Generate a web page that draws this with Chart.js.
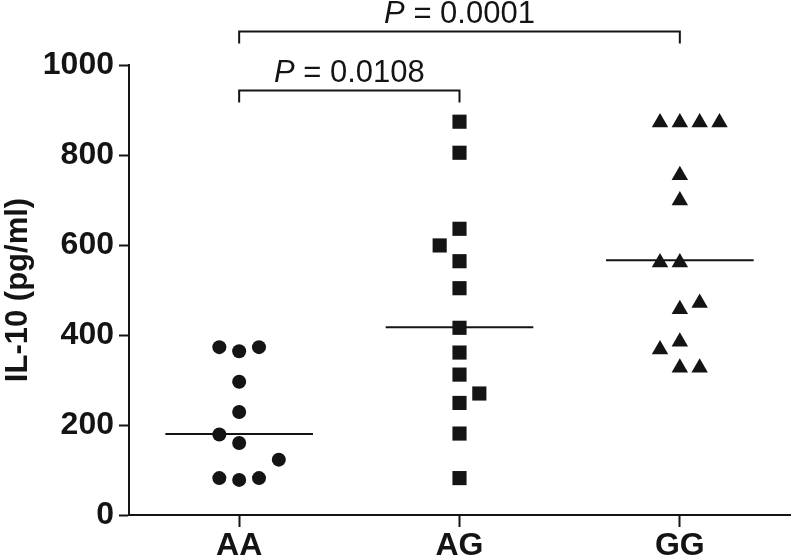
<!DOCTYPE html>
<html>
<head>
<meta charset="utf-8">
<script src="https://cdn.jsdelivr.net/npm/chart.js@4.4.1/dist/chart.umd.min.js"></script>
<style>
  html, body { margin: 0; padding: 0; background: #fff; }
  #wrap { width: 800px; height: 560px; }
</style>
</head>
<body>
<div id="wrap"><canvas id="c"></canvas></div>
<script>
// genotype groups and axis ticks
const genotypes = ['AA', 'AG', 'GG'];
const yTicks = [0, 200, 400, 600, 800, 1000];

// IL-10 values per genotype (pg/ml)
const aaValues = [373, 364, 373, 296, 229, 179, 160, 123, 82, 78, 82];
const agValues = [874, 805, 636, 599, 564, 504, 416, 361, 312, 270, 249, 181, 82];
const ggValues = [872, 872, 872, 872, 755, 699, 561, 561, 471, 457, 385, 368, 327, 327];

// side-by-side spread of overlapping dots (in dot widths)
const aaSpread = [-1, 0, 1, 0, 0, -1, 0, 2, -1, 0, 1];
const agSpread = [0, 0, 0, -1, 0, 0, 0, 0, 0, 1, 0, 0, 0];
const ggSpread = [-1, 0, 1, 2, 0, 0, -1, 0, 1, 0, 0, -1, 0, 1];

const medians = [180, 417, 566];

// significance brackets
const pairFrom = [1, 1];
const pairTo = [2, 3];
const pairLevel = [944, 1076];
const pairP = ['0.0108', '0.0001'];

const INK = '#141414';
const FONT = '"Liberation Sans", Arial, Helvetica, sans-serif';
const STEP = 0.09;

function toPoints(values, spread, pos) {
  return values.map((v, i) => ({ x: pos + spread[i] * STEP, y: v }));
}

function medianLine(i) {
  return {
    type: 'line',
    data: [{ x: i + 1 - 0.335, y: medians[i] }, { x: i + 1 + 0.335, y: medians[i] }],
    borderColor: INK,
    borderWidth: 2,
    pointRadius: 0,
    showLine: true,
    fill: false
  };
}

const bracketPlugin = {
  id: 'brackets',
  afterDraw(chart) {
    const { ctx, scales: { x, y } } = chart;
    ctx.save();
    ctx.strokeStyle = INK;
    ctx.fillStyle = INK;
    ctx.lineWidth = 2;
    pairFrom.forEach((f, i) => {
      const x1 = x.getPixelForValue(f);
      const x2 = x.getPixelForValue(pairTo[i]);
      const yy = Math.round(y.getPixelForValue(pairLevel[i])) + 0.5;
      ctx.beginPath();
      ctx.moveTo(x1, yy + 12);
      ctx.lineTo(x1, yy);
      ctx.lineTo(x2, yy);
      ctx.lineTo(x2, yy + 12);
      ctx.stroke();

      const italic = 'italic 31px ' + FONT;
      const normal = '31px ' + FONT;
      const rest = ' = ' + pairP[i];
      ctx.font = italic;
      const wP = ctx.measureText('P').width;
      ctx.font = normal;
      const wR = ctx.measureText(rest).width;
      const start = (x1 + x2) / 2 - (wP + wR) / 2;
      ctx.textBaseline = 'alphabetic';
      ctx.font = italic;
      ctx.fillText('P', start, yy - 9);
      ctx.font = normal;
      ctx.fillText(rest, start + wP, yy - 9);
    });
    ctx.restore();
  }
};

new Chart(document.getElementById('c'), {
  type: 'scatter',
  data: {
    datasets: [
      {
        data: toPoints(aaValues, aaSpread, 1),
        pointStyle: 'circle',
        pointRadius: 7,
        pointBorderWidth: 0,
        backgroundColor: INK,
        borderColor: INK
      },
      {
        data: toPoints(agValues, agSpread, 2),
        pointStyle: 'rect',
        pointRadius: 10,
        pointBorderWidth: 0,
        backgroundColor: INK,
        borderColor: INK
      },
      {
        data: toPoints(ggValues, ggSpread, 3),
        pointStyle: 'triangle',
        pointRadius: 9.5,
        pointBorderWidth: 0,
        backgroundColor: INK,
        borderColor: INK
      },
      medianLine(0),
      medianLine(1),
      medianLine(2)
    ]
  },
  options: {
    responsive: true,
    maintainAspectRatio: false,
    animation: false,
    layout: { padding: { top: 65, right: 4, left: 0, bottom: 0 } },
    plugins: {
      legend: { display: false },
      tooltip: { enabled: false }
    },
    scales: {
      x: {
        type: 'linear',
        min: 0.5,
        max: 3.5,
        afterBuildTicks: (scale) => { scale.ticks = [1, 2, 3].map(v => ({ value: v })); },
        afterFit: (scale) => { scale.height = 45; },
        ticks: {
          color: INK,
          font: { family: FONT, size: 32, weight: 'bold' },
          padding: 0,
          maxRotation: 0,
          callback: (v) => genotypes[v - 1]
        },
        grid: {
          drawOnChartArea: false,
          drawTicks: true,
          tickLength: 12,
          tickColor: INK,
          tickWidth: 2
        },
        border: { display: true, color: INK, width: 2 }
      },
      y: {
        min: 0,
        max: 1000,
        afterBuildTicks: (scale) => { scale.ticks = yTicks.map(v => ({ value: v })); },
        afterFit: (scale) => { scale.width = 129; },
        ticks: {
          color: INK,
          font: { family: FONT, size: 32, weight: 'bold' },
          padding: 5,
          callback: (v) => String(v)
        },
        grid: {
          drawOnChartArea: false,
          drawTicks: true,
          tickLength: 10,
          tickColor: INK,
          tickWidth: 2
        },
        border: { display: true, color: INK, width: 2 },
        title: {
          display: true,
          text: 'IL-10 (pg/ml)',
          color: INK,
          font: { family: FONT, size: 31, weight: 'bold' },
          padding: { top: 0, bottom: 0 }
        }
      }
    }
  },
  plugins: [bracketPlugin]
});
</script>
</body>
</html>
